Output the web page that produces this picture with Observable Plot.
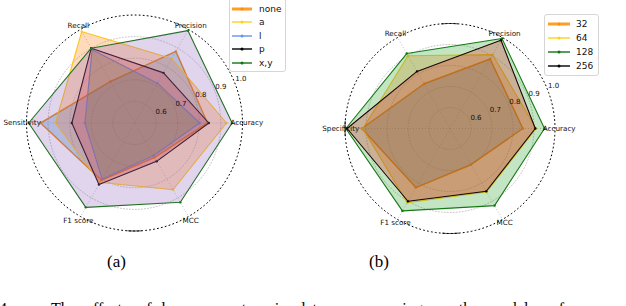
<!DOCTYPE html>
<html><head><meta charset="utf-8">
<script src="https://cdn.jsdelivr.net/npm/d3@7"></script>
<script src="https://cdn.jsdelivr.net/npm/@observablehq/plot@0.6"></script>
<style>
html,body{margin:0;padding:0;background:#fff;}
body{width:626px;height:306px;overflow:hidden;position:relative;font-family:"DejaVu Sans",sans-serif;}
.panel{position:absolute;top:0;}
.legend{position:absolute;background:#fff;border:1px solid #d6d6d6;border-radius:3px;z-index:5;box-sizing:border-box;}
.legrow{position:absolute;left:0;height:12px;font:9px "DejaVu Sans",sans-serif;color:#111;white-space:nowrap;}
.cap{position:absolute;font-family:"Liberation Serif","Times New Roman",serif;color:#000;white-space:nowrap;}
</style></head>
<body>
<div id="pa" class="panel" style="left:0"></div>
<div id="pb" class="panel" style="left:313px"></div>
<div id="la" class="legend" style="left:229px;top:-2px;width:57px;height:74px"></div>
<div id="lb" class="legend" style="left:544px;top:14px;width:55px;height:62px"></div>
<div class="cap" style="left:107px;top:252px;font-size:17px">(a)</div>
<div class="cap" style="left:369px;top:252px;font-size:17px">(b)</div>
<div class="cap" style="left:-1px;top:300px;font-size:16px;word-spacing:6px">4.&nbsp;&nbsp;&nbsp;&nbsp;The effects of key parameters in data preprocessing on the model performance</div>
<script>
// ---- data ----
const metricsA = ["Accuracy", "Precision", "Recall", "Sensitivity", "F1 score", "MCC"];
const metricsB = ["Accuracy", "Precision", "Recall", "Specificity", "F1 score", "MCC"];
const radialTicks = [0.6, 0.7, 0.8, 0.9, 1.0];
const tickLabels = ["0.6", "0.7", "0.8", "0.9", "1.0"];

const namesA = ["none", "a", "l", "p", "x,y"];
const aNone = [0.838, 0.883, 0.722, 0.935, 0.806, 0.685];
const aA    = [0.926, 0.845, 0.989, 0.866, 0.818, 0.857];
const aL    = [0.802, 0.713, 0.892, 0.730, 0.800, 0.675];
const aP    = [0.844, 0.768, 0.900, 0.790, 0.829, 0.705];
const aXY   = [0.952, 0.994, 0.900, 0.990, 0.951, 0.924];

const namesB = ["32", "64", "128", "256"];
const b32  = [0.847, 0.882, 0.746, 0.920, 0.825, 0.699];
const b64  = [0.910, 0.906, 0.900, 0.915, 0.908, 0.849];
const b128 = [0.950, 0.995, 0.912, 0.996, 0.953, 0.924];
const b256 = [0.906, 0.985, 0.814, 0.990, 0.900, 0.845];

const lineColorsA = ["#ff8c00", "#ffd21a", "#6495ed", "#000000", "#137313"];
const lineColorsB = ["#ff8c00", "#ffd21a", "#137313", "#000000"];
const fillColors = ["#1f77b4", "#ff7f0e", "#2ca02c", "#d62728", "#9467bd"];

function radar({metrics, names, series, lineColors, cx, cy, R, W, H, solid}) {
  const n = metrics.length;
  const ang = i => i * 2 * Math.PI / n;
  const rr = v => (v - 0.5) / 0.5;
  const px = (v, i) => rr(v) * Math.cos(ang(i));
  const py = (v, i) => rr(v) * Math.sin(ang(i));
  const circle = (v, a0 = 0, a1 = 2 * Math.PI) => d3.range(0, 181).map(k => {
    const t = a0 + (a1 - a0) * k / 180;
    return {x: rr(v) * Math.cos(t), y: rr(v) * Math.sin(t)};
  });
  const marks = [];
  for (const t of radialTicks.slice(0, -1)) {
    marks.push(Plot.line(circle(t), {x: "x", y: "y", stroke: "#b5b5b5", strokeWidth: 0.8, strokeDasharray: "1,2"}));
  }
  marks.push(Plot.link(d3.range(n), {x1: () => 0, y1: () => 0, x2: i => px(1, i), y2: i => py(1, i),
    stroke: "#b5b5b5", strokeWidth: 0.8, strokeDasharray: "1,2"}));
  marks.push(Plot.line(circle(1), {x: "x", y: "y", stroke: "#000", strokeWidth: 1, strokeDasharray: "1,3"}));
  for (const [a0, a1] of solid) {
    marks.push(Plot.line(circle(1, a0 * Math.PI / 180, a1 * Math.PI / 180), {x: "x", y: "y", stroke: "#000", strokeWidth: 1}));
  }
  series.forEach((vals, s) => {
    const rows = vals.map((v, i) => ({v, i}));
    const closed = rows.concat([rows[0]]);
    const X = d => px(d.v, d.i), Y = d => py(d.v, d.i);
    marks.push(Plot.line(closed, {x: X, y: Y, stroke: lineColors[s], strokeWidth: s === 0 ? 1.5 : 1.1}));
    marks.push(Plot.dot(rows, {x: X, y: Y, r: 1.2, fill: lineColors[s], stroke: "none"}));
    marks.push(Plot.line(closed, {x: X, y: Y, stroke: "none", fill: fillColors[s], fillOpacity: 0.28}));
  });
  marks.push(Plot.text(metrics, {x: (m, i) => 1.04 * Math.cos(ang(i)), y: (m, i) => 1.04 * Math.sin(ang(i)),
    text: d => d, fontSize: 7.2, fill: "#111"}));
  const a = 22.5 * Math.PI / 180;
  marks.push(Plot.text(radialTicks, {x: v => rr(v) * Math.cos(a), y: v => rr(v) * Math.sin(a),
    text: (v, i) => tickLabels[i], textAnchor: "start", dx: 1, dy: -3, fontSize: 7, fill: "#111"}));
  return Plot.plot({
    width: W, height: H, margin: 0,
    x: {domain: [-cx / R, (W - cx) / R], axis: null},
    y: {domain: [-(H - cy) / R, cy / R], axis: null},
    style: {fontFamily: "DejaVu Sans", background: "transparent", overflow: "visible"},
    marks
  });
}

document.getElementById("pa").append(radar({
  metrics: metricsA, names: namesA, series: [aNone, aA, aL, aP, aXY], lineColors: lineColorsA,
  cx: 134, cy: 122.5, R: 108, W: 313, H: 250, solid: [[266.5, 273.5]]
}));
document.getElementById("pb").append(radar({
  metrics: metricsB, names: namesB, series: [b32, b64, b128, b256], lineColors: lineColorsB,
  cx: 136.5, cy: 128, R: 105, W: 313, H: 250, solid: [[86, 94.5], [266, 274.5], [176, 184]]
}));

function legend(id, names, colors, y0, step, lineLeft, lineW, textLeft) {
  const box = document.getElementById(id);
  names.forEach((nm, k) => {
    const row = document.createElement("div");
    row.className = "legrow";
    row.style.top = (y0 + k * step - 6) + "px";
    const w = k === 0 ? 3 : 1.4;
    const op = k === 0 ? 0.85 : 1;
    row.innerHTML = `<svg width="${lineLeft + lineW + 2}" height="12" style="position:absolute;left:0;top:0">
      <line x1="${lineLeft}" x2="${lineLeft + lineW}" y1="6" y2="6" stroke="${colors[k]}" stroke-width="${w}" stroke-opacity="${op}"/>
      <circle cx="${lineLeft + lineW / 2}" cy="6" r="1.5" fill="${colors[k]}"/></svg>
      <span style="position:absolute;left:${textLeft}px;top:0;line-height:12px">${nm}</span>`;
    box.append(row);
  });
}
legend("la", namesA, lineColorsA, 9.5, 13.6, 2, 20, 29);
legend("lb", namesB, lineColorsB, 8.5, 14.3, 3, 22, 31);
</script>
</body></html>
